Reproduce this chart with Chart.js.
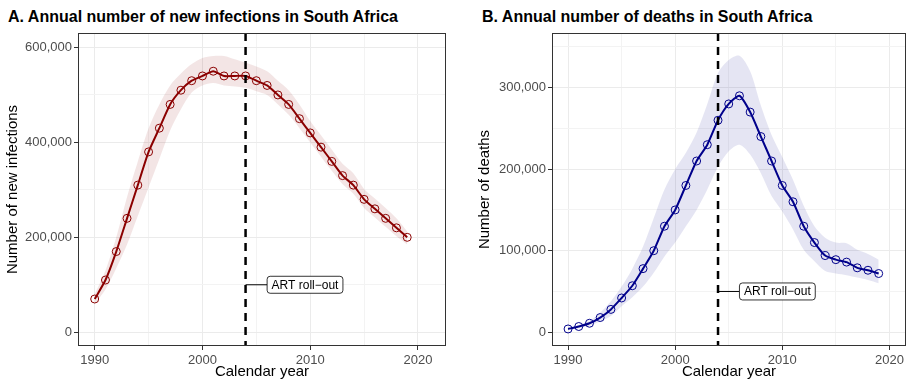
<!DOCTYPE html>
<html>
<head>
<meta charset="utf-8">
<script src="https://cdn.jsdelivr.net/npm/chart.js@4.4.1/dist/chart.umd.min.js"></script>
<style>
  body { margin: 0; background: #fff; }
  #wrap { position: relative; width: 911px; height: 382px; font-family: "Liberation Sans", Arial, sans-serif; }
  .panel { position: absolute; top: 0; height: 382px; }
  .title { position: absolute; top: 8px; font-weight: bold; font-size: 16px; line-height: 18px; color: #000; white-space: nowrap; }
</style>
</head>
<body>
<div id="wrap">
  <div class="title" style="left:8px">A. Annual number of new infections in South Africa</div>
  <div class="title" style="left:482px">B. Annual number of deaths in South Africa</div>
  <div class="panel" style="left:0; width:460px"><canvas id="infectionsChart"></canvas></div>
  <div class="panel" style="left:472px; width:439px"><canvas id="deathsChart"></canvas></div>
</div>
<script>
// Model output, South Africa 1990-2019
const years = [1990, 1991, 1992, 1993, 1994, 1995, 1996, 1997, 1998, 1999,
               2000, 2001, 2002, 2003, 2004, 2005, 2006, 2007, 2008, 2009,
               2010, 2011, 2012, 2013, 2014, 2015, 2016, 2017, 2018, 2019];

const newInfections = [70000, 110000, 170000, 240000, 310000, 380000, 430000, 480000, 510000, 530000,
                       540000, 550000, 540000, 540000, 540000, 530000, 520000, 500000, 480000, 450000,
                       420000, 390000, 360000, 330000, 310000, 280000, 260000, 240000, 220000, 200000];
const infectionsLower = [60000, 90000, 135000, 185000, 245000, 305000, 365000, 425000, 470000, 505000,
                         520000, 525000, 520000, 518000, 515000, 508000, 500000, 480000, 458000, 430000,
                         400000, 370000, 340000, 312000, 292000, 262000, 242000, 222000, 202000, 185000];
const infectionsUpper = [80000, 130000, 200000, 285000, 360000, 430000, 480000, 520000, 545000, 565000,
                         578000, 582000, 582000, 575000, 568000, 560000, 550000, 530000, 510000, 480000,
                         445000, 415000, 385000, 355000, 335000, 302000, 282000, 262000, 240000, 212000];

const deaths = [4000, 7000, 11000, 18000, 28000, 42000, 57000, 78000, 100000, 130000,
                150000, 180000, 210000, 230000, 260000, 280000, 290000, 270000, 240000, 210000,
                180000, 160000, 130000, 110000, 94000, 89000, 86000, 79000, 76000, 72000];
const deathsLower = [3000, 5000, 8000, 13000, 20000, 32000, 43000, 56000, 73000, 93000,
                     110000, 130000, 150000, 175000, 203000, 222000, 230000, 218000, 195000, 167000,
                     148000, 126000, 101000, 87000, 75000, 72000, 70000, 67000, 64000, 60000];
const deathsUpper = [6000, 9000, 14000, 24000, 38000, 56000, 78000, 105000, 140000, 175000,
                     200000, 220000, 245000, 280000, 318000, 334000, 339000, 320000, 278000, 242000,
                     215000, 187000, 155000, 130000, 116000, 110000, 109000, 101000, 96000, 89000];

// axis breaks: labelled (major) and unlabelled (minor) grid lines
const yearTicks = [1990, 1995, 2000, 2005, 2010, 2015, 2020];
const yearLabels = [1990, 2000, 2010, 2020];
const infectionsTicks = [0, 100000, 200000, 300000, 400000, 500000, 600000];
const infectionsLabels = [0, 200000, 400000, 600000];
const deathsTicks = [0, 50000, 100000, 150000, 200000, 250000, 300000, 350000];
const deathsLabels = [0, 100000, 200000, 300000];

const rolloutYear = 2004;
const rolloutText = "ART roll\u2212out";
const infectionsLabelAt = [2006, 100000];
const deathsLabelAt = [2006, 50000];

const gridMajor = "#EBEBEB";
const gridMinor = "#F3F3F3";
const tickGrey = "#4D4D4D";
const fontFamily = "'Liberation Sans', Arial, sans-serif";

function points(values) {
    return years.map((yr, i) => ({ x: yr, y: values[i] }));
}

function fixedTicks(values) {
    return scale => { scale.ticks = values.map(v => ({ value: v })); };
}

// full panel border like theme_bw
const panelBorder = {
    id: "panelBorder",
    afterDraw(chart) {
        const { ctx, chartArea: a } = chart;
        ctx.save();
        ctx.strokeStyle = "#333333";
        ctx.lineWidth = 1;
        ctx.strokeRect(Math.round(a.left) + 0.5, Math.round(a.top) + 0.5,
                       Math.round(a.right - a.left) - 1, Math.round(a.bottom - a.top) - 1);
        ctx.restore();
    }
};

// dashed roll-out line and its boxed label
const rolloutMarker = {
    id: "rolloutMarker",
    afterDatasetsDraw(chart, args, opts) {
        const { ctx, chartArea: a, scales } = chart;
        const x = scales.x.getPixelForValue(rolloutYear);
        const lx = scales.x.getPixelForValue(opts.at[0]);
        const ly = scales.y.getPixelForValue(opts.at[1]);
        ctx.save();
        ctx.strokeStyle = "#000";
        ctx.lineWidth = 2.5;
        ctx.setLineDash([8, 6]);
        ctx.beginPath();
        ctx.moveTo(x, a.top);
        ctx.lineTo(x, a.bottom);
        ctx.stroke();

        ctx.setLineDash([]);
        ctx.lineWidth = 1;
        ctx.beginPath();
        ctx.moveTo(x, ly);
        ctx.lineTo(lx, ly);
        ctx.stroke();

        ctx.font = "12px " + fontFamily;
        const w = ctx.measureText(rolloutText).width + 9;
        const h = 17;
        ctx.beginPath();
        ctx.roundRect(lx, ly - h / 2, w, h, 3);
        ctx.fillStyle = "#fff";
        ctx.fill();
        ctx.lineWidth = 0.8;
        ctx.stroke();
        ctx.fillStyle = "#000";
        ctx.textBaseline = "middle";
        ctx.fillText(rolloutText, lx + 4.5, ly + 0.5);
        ctx.restore();
    }
};

function makeChart(id, cfg) {
    const canvas = document.getElementById(id);
    const isMajorX = c => c.tick && yearLabels.includes(c.tick.value);
    const isMajorY = c => c.tick && cfg.yLabels.includes(c.tick.value);
    return new Chart(canvas.getContext("2d"), {
        type: "line",
        data: {
            datasets: [
                {
                    data: points(cfg.values),
                    borderColor: cfg.color,
                    borderWidth: 2,
                    tension: 0.2,
                    pointRadius: 4,
                    pointBorderWidth: 1,
                    pointBorderColor: cfg.color,
                    pointBackgroundColor: "rgba(0,0,0,0)",
                    fill: false
                },
                {
                    data: points(cfg.lower),
                    borderWidth: 0,
                    pointRadius: 0,
                    tension: 0.3,
                    fill: false
                },
                {
                    data: points(cfg.upper),
                    borderWidth: 0,
                    pointRadius: 0,
                    tension: 0.3,
                    backgroundColor: cfg.band,
                    fill: "-1"
                }
            ]
        },
        options: {
            responsive: true,
            maintainAspectRatio: false,
            animation: false,
            layout: { padding: { top: 33, right: cfg.padRight, bottom: 0, left: 0 } },
            plugins: {
                legend: { display: false },
                tooltip: { enabled: false },
                rolloutMarker: { at: cfg.labelAt }
            },
            scales: {
                x: {
                    type: "linear",
                    min: cfg.xMin,
                    max: cfg.xMax,
                    afterBuildTicks: fixedTicks(yearTicks),
                    afterFit: s => { s.height = 36; },
                    ticks: {
                        autoSkip: false,
                        maxRotation: 0,
                        padding: 3,
                        color: tickGrey,
                        font: { family: fontFamily, size: 13 },
                        callback: v => (yearLabels.includes(v) ? String(v) : "")
                    },
                    grid: {
                        color: c => (isMajorX(c) ? gridMajor : gridMinor),
                        lineWidth: 1,
                        tickLength: 4,
                        tickColor: c => (isMajorX(c) ? "#333333" : "rgba(0,0,0,0)")
                    },
                    border: { display: false },
                    title: {
                        display: true,
                        text: "Calendar year",
                        color: "#000",
                        font: { family: fontFamily, size: 15 },
                        padding: { top: 0, bottom: 1 }
                    }
                },
                y: {
                    min: cfg.yMin,
                    max: cfg.yMax,
                    afterBuildTicks: fixedTicks(cfg.yTicks),
                    afterFit: s => { s.width = cfg.yWidth; },
                    ticks: {
                        autoSkip: false,
                        padding: 2,
                        color: tickGrey,
                        font: { family: fontFamily, size: 13 },
                        callback: v => (cfg.yLabels.includes(v) ? v.toLocaleString("en-US") : "")
                    },
                    grid: {
                        color: c => (isMajorY(c) ? gridMajor : gridMinor),
                        lineWidth: 1,
                        tickLength: 4,
                        tickColor: c => (isMajorY(c) ? "#333333" : "rgba(0,0,0,0)")
                    },
                    border: { display: false },
                    title: {
                        display: true,
                        text: cfg.yTitle,
                        color: "#000",
                        font: { family: fontFamily, size: 15 },
                        padding: { top: 4, bottom: 0 }
                    }
                }
            }
        },
        plugins: [panelBorder, rolloutMarker]
    });
}

makeChart("infectionsChart", {
    values: newInfections,
    lower: infectionsLower,
    upper: infectionsUpper,
    color: "#8B0000",
    band: "rgba(139,0,0,0.1)",
    labelAt: infectionsLabelAt,
    xMin: 1988.45, xMax: 2022.6,
    yMin: -29000, yMax: 630500,
    yTicks: infectionsTicks, yLabels: infectionsLabels,
    yWidth: 78, padRight: 14,
    yTitle: "Number of new infections"
});

makeChart("deathsChart", {
    values: deaths,
    lower: deathsLower,
    upper: deathsUpper,
    color: "#00008B",
    band: "rgba(0,0,139,0.1)",
    labelAt: deathsLabelAt,
    xMin: 1988.5, xMax: 2021.55,
    yMin: -16900, yMax: 367000,
    yTicks: deathsTicks, yLabels: deathsLabels,
    yWidth: 80, padRight: 3.5,
    yTitle: "Number of deaths"
});
</script>
</body>
</html>
